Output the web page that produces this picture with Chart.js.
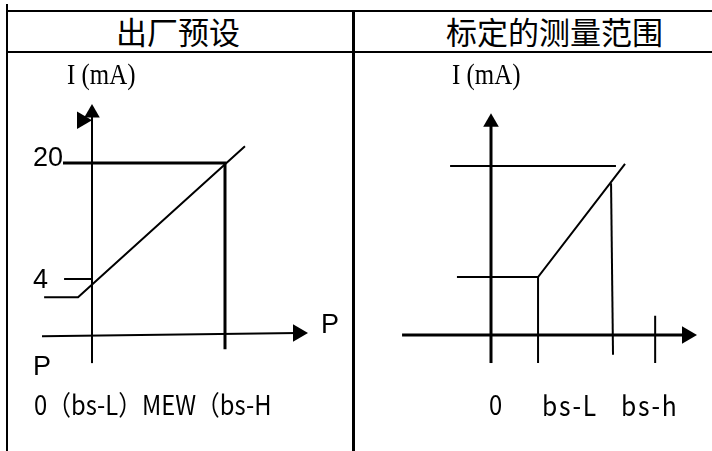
<!DOCTYPE html>
<html lang="zh">
<head>
<meta charset="UTF-8">
<title>出厂预设 / 标定的测量范围</title>
<script src="https://cdn.jsdelivr.net/npm/chart.js"></script>
<style>
  body { margin: 0; width: 712px; height: 451px; overflow: hidden; background: #fff; position: relative; }
  .rule { position: absolute; background: #000; }
  .txt { position: absolute; white-space: nowrap; line-height: 1; color: #000; }
  .cjk { font-family: "Noto Sans CJK SC", sans-serif; }
  .narrow { transform: scaleX(0.88); transform-origin: left top; }
  .serif { font-family: "Liberation Serif", serif; transform: scaleX(0.83); transform-origin: left top; }
  .sans { font-family: "Liberation Sans", Arial, sans-serif; }
  .box { position: absolute; }
</style>
</head>
<body>
  <!-- table rules -->
  <div class="rule" style="left:6px;top:4px;width:2px;height:447px"></div>
  <div class="rule" style="left:6px;top:10px;width:706px;height:2px"></div>
  <div class="rule" style="left:6px;top:51px;width:706px;height:2px"></div>
  <div class="rule" style="left:352px;top:10px;width:3px;height:441px"></div>

  <!-- header -->
  <div class="txt cjk" style="left:116px;top:15px;font-size:31px">出厂预设</div>
  <div class="txt cjk" style="left:446px;top:15px;font-size:31px">标定的测量范围</div>

  <div class="box" style="left:8px;top:53px;width:344px;height:398px"><canvas id="factoryChart" width="344" height="398"></canvas></div>
  <div class="box" style="left:355px;top:53px;width:357px;height:398px"><canvas id="calibChart" width="357" height="398"></canvas></div>

  <!-- labels -->
  <div class="txt serif" style="left:67px;top:59px;font-size:30px">I (mA)</div>
  <div class="txt serif" style="left:452px;top:59px;font-size:30px">I (mA)</div>
  <div class="txt sans" style="left:33px;top:144px;font-size:27px">20</div>
  <div class="txt sans" style="left:33px;top:266px;font-size:27px">4</div>
  <div class="txt sans" style="left:321px;top:311px;font-size:27px">P</div>
  <div class="txt sans" style="left:33px;top:353px;font-size:27px">P</div>
  <div class="txt cjk narrow" style="left:34px;top:390px;font-size:27px">0（bs-L）MEW（bs-H</div>
  <div class="txt cjk narrow" style="left:489px;top:390px;font-size:27px">0</div>
  <div class="txt cjk narrow" style="left:542px;top:390px;font-size:28px;letter-spacing:2px">bs-L</div>
  <div class="txt cjk narrow" style="left:621px;top:390px;font-size:28px;letter-spacing:2px">bs-h</div>

  <script>
    // 出厂预设 : P in % of range, I in mA
    const factoryCurveP = [-36, -10.5, 115];
    const factoryCurveI = [1.5, 1.5, 22.3];
    const factoryFullP = [-21.8, 100, 100];
    const factoryFullI = [20, 20, -5.7];
    const factoryTick4P = [-21, 0];
    const factoryTick4I = [4, 4];
    const factoryYAxisP = [0, 0];
    const factoryYAxisI = [-7.6, 26.9];
    const factoryXAxisP = [-37.6, 154.9];
    const factoryXAxisI = [-3.9, -3.45];

    // 标定的测量范围
    const calibYAxisP = [0, 0];
    const calibYAxisI = [-8.4, 26.3];
    const calibXAxisP = [-36.3, 80];
    const calibXAxisI = [-4.36, -4.36];
    const calibTopP = [-16.7, 51];
    const calibTopI = [20, 20];
    const calibCurveP = [-13.9, 19.2, 54.7];
    const calibCurveI = [4, 4, 20.3];
    const calibLowP = [19.2, 19.2];
    const calibLowI = [4, -8.4];
    const calibHighP = [49, 49.8];
    const calibHighI = [17.5, -7.2];
    const calibTickP = [67, 67];
    const calibTickI = [-1.6, -8.4];

    const pts = (xs, ys) => xs.map((x, i) => ({ x: x, y: ys[i] }));

    function seg(xs, ys, width) {
      return {
        data: pts(xs, ys),
        showLine: true,
        borderColor: '#000',
        borderWidth: width,
        pointRadius: 0,
        fill: false
      };
    }

    function arrow(x, y, r, rot) {
      return {
        data: [{ x: x, y: y }],
        showLine: false,
        pointStyle: 'triangle',
        pointRotation: rot,
        pointRadius: r,
        backgroundColor: '#000',
        borderColor: '#000',
        borderWidth: 0
      };
    }

    function makeChart(id, datasets, xr, yr) {
      new Chart(document.getElementById(id), {
        type: 'scatter',
        data: { datasets: datasets },
        options: {
          responsive: false,
          animation: false,
          devicePixelRatio: 1,
          layout: { padding: 0, autoPadding: false },
          scales: {
            x: { type: 'linear', display: false, min: xr[0], max: xr[1] },
            y: { type: 'linear', display: false, min: yr[0], max: yr[1] }
          },
          plugins: { legend: { display: false }, tooltip: { enabled: false } }
        }
      });
    }

    makeChart('factoryChart', [
      seg(factoryYAxisP, factoryYAxisI, 2),
      seg(factoryXAxisP, factoryXAxisI, 2),
      seg(factoryFullP, factoryFullI, 3),
      seg(factoryCurveP, factoryCurveI, 2),
      seg(factoryTick4P, factoryTick4I, 2),
      arrow(factoryYAxisP[1], factoryYAxisI[1], 9, 0),
      arrow(-7.5, 25.9, 10, 90),
      arrow(factoryXAxisP[1], factoryXAxisI[1], 10, 90)
    ], [-63.16, 195.49], [-19.72, 35.17]);

    makeChart('calibChart', [
      seg(calibYAxisP, calibYAxisI, 3),
      seg(calibXAxisP, calibXAxisI, 3),
      seg(calibTopP, calibTopI, 2),
      seg(calibCurveP, calibCurveI, 2),
      seg(calibLowP, calibLowI, 2),
      seg(calibHighP, calibHighI, 2),
      seg(calibTickP, calibTickI, 2),
      arrow(calibYAxisP[1], calibYAxisI[1], 9, 0),
      arrow(calibXAxisP[1], calibXAxisI[1], 10, 90)
    ], [-55.51, 90.2], [-21.08, 36.29]);
  </script>
</body>
</html>
